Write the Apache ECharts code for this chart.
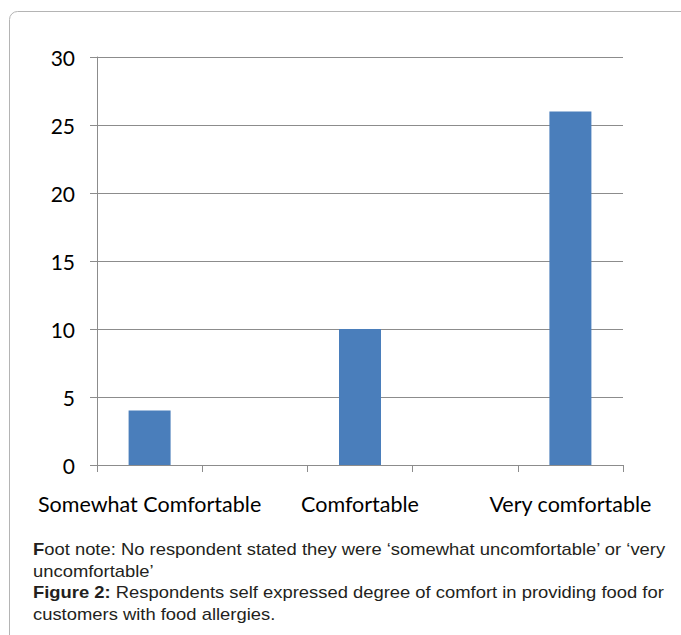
<!DOCTYPE html>
<html>
<head>
<meta charset="utf-8">
<script src="https://cdn.jsdelivr.net/npm/echarts@6/dist/echarts.min.js"></script>
<style>
html,body{margin:0;padding:0;background:#fff;}
#chart{width:681px;height:635px;}
</style>
</head>
<body>
<div id="chart"></div>
<script>
// Data
var categories = ["Somewhat Comfortable", "", "Comfortable", "", "Very comfortable"];
var respondents = [4, null, 10, null, 26];
var yTicks = {min: 0, max: 30, interval: 5};
var footLines = [
  "{b|F}oot note: No respondent stated they were \u2018somewhat uncomfortable\u2019 or \u2018very",
  "uncomfortable\u2019",
  "{b|Figure 2:} Respondents self expressed degree of comfort in providing food for",
  "customers with food allergies."
];

var chart = echarts.init(document.getElementById('chart'), null, {renderer: 'svg'});
var axisColor = '#8c8c8c';
var labelFont = 'Lato, "Open Sans", sans-serif';
var textFont = '"Liberation Sans", Arial, sans-serif';

var graphics = [{
  type: 'rect',
  shape: {x: 9.5, y: 11.5, width: 720, height: 700, r: 8},
  style: {fill: 'none', stroke: '#b4b4b4', lineWidth: 1},
  silent: true
}];
var lineMids = [549.5, 571.2, 592.8, 614.5];
footLines.forEach(function (t, i) {
  graphics.push({
    type: 'text',
    x: 33,
    y: lineMids[i],
    scaleX: 1.15,
    style: {
      text: t,
      x: 0,
      y: 0,
      verticalAlign: 'middle',
      font: '16px ' + textFont,
      fill: '#231f20',
      rich: {
        b: {fontWeight: 'bold', fontSize: 16, fontFamily: textFont, fill: '#231f20'}
      }
    }
  });
});

chart.setOption({
  animation: false,
  backgroundColor: '#fff',
  grid: {left: 97, right: 58, top: 57, bottom: 170, containLabel: false},
  xAxis: {
    type: 'category',
    data: categories,
    boundaryGap: true,
    axisLine: {show: true, lineStyle: {color: axisColor, width: 1}},
    axisTick: {show: true, length: 7, interval: 0, lineStyle: {color: axisColor}},
    axisLabel: {
      interval: 0,
      margin: 28,
      color: '#000',
      fontFamily: labelFont,
      fontSize: 21.5
    },
    splitLine: {show: false}
  },
  yAxis: {
    type: 'value',
    min: yTicks.min,
    max: yTicks.max,
    interval: yTicks.interval,
    axisLine: {show: true, lineStyle: {color: axisColor, width: 1}},
    axisTick: {show: true, length: 7, lineStyle: {color: axisColor}},
    axisLabel: {
      margin: 22,
      color: '#000',
      fontFamily: labelFont,
      fontSize: 21
    },
    splitLine: {show: true, lineStyle: {color: axisColor, width: 1}}
  },
  series: [{
    type: 'bar',
    data: respondents,
    barWidth: 42,
    itemStyle: {color: '#4a7ebb'}
  }],
  graphic: graphics
});
</script>
</body>
</html>
